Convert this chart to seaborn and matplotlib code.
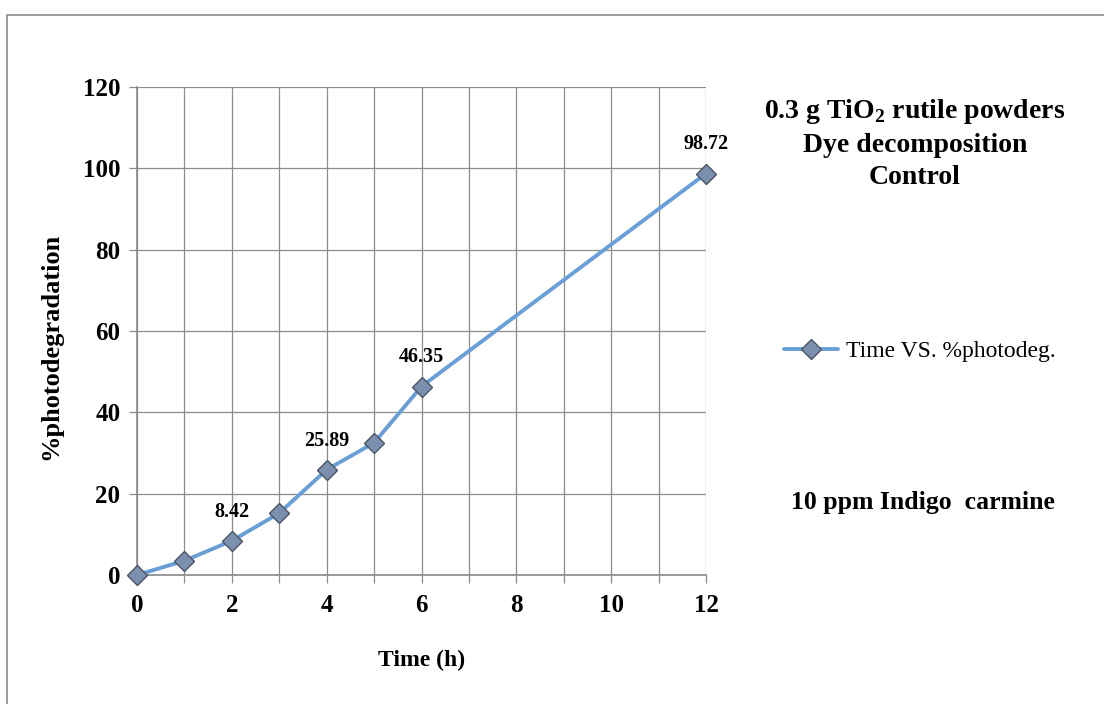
import matplotlib
matplotlib.use("Agg")
import matplotlib.pyplot as plt
from matplotlib.patches import Rectangle
from matplotlib.ticker import MultipleLocator
import seaborn as sns
import pandas as pd

# Photodegradation of indigo carmine over time
time_h = [0, 1, 2, 3, 4, 5, 6, 12]
photodeg = [0, 3.5, 8.42, 15.2, 25.89, 32.5, 46.35, 98.72]
labelled = {2: "8.42", 4: "25.89", 6: "46.35", 12: "98.72"}
series_name = "Time VS. %photodeg."

sns.set_theme(style="white")
plt.rcParams["font.family"] = ["Liberation Serif", "DejaVu Serif"]
plt.rcParams["mathtext.fontset"] = "custom"
plt.rcParams["mathtext.rm"] = "Liberation Serif:bold"
plt.rcParams["mathtext.bf"] = "Liberation Serif:bold"
plt.rcParams["text.color"] = "black"
plt.rcParams["axes.labelcolor"] = "black"
plt.rcParams["xtick.labelcolor"] = "black"
plt.rcParams["ytick.labelcolor"] = "black"

df = pd.DataFrame({"Time (h)": time_h, "%photodegradation": photodeg})

fig = plt.figure(figsize=(11.04, 7.04), dpi=100)
ax = fig.add_axes([137 / 1104, 1 - 575 / 704, (706 - 137) / 1104, (575 - 87) / 704])

line_color = "#6A9FD6"
grid_color = "#8C8C8C"

sns.lineplot(data=df, x="Time (h)", y="%photodegradation", ax=ax,
             color=line_color, linewidth=2.8, marker="D", markersize=10,
             markerfacecolor="#7B8FAE", markeredgecolor="#4A5563",
             markeredgewidth=1.0, label=series_name, clip_on=False, zorder=3)

ax.set_xlim(0, 12)
ax.set_ylim(0, 120)
ax.xaxis.set_major_locator(MultipleLocator(2))
ax.xaxis.set_minor_locator(MultipleLocator(1))
ax.yaxis.set_major_locator(MultipleLocator(20))
ax.grid(True, which="both", axis="x", color=grid_color, linewidth=0.9)
ax.grid(True, which="major", axis="y", color=grid_color, linewidth=0.9)
for s in ax.spines.values():
    s.set_visible(False)
ax.spines["left"].set_visible(True)
ax.spines["bottom"].set_visible(True)
ax.spines["left"].set_color(grid_color)
ax.spines["bottom"].set_color(grid_color)

ax.tick_params(axis="both", which="both", direction="out", color=grid_color,
               length=6, width=0.9, bottom=True, left=True)
ax.tick_params(axis="x", which="major", pad=8)
ax.tick_params(axis="y", which="major", pad=6)
for lab in ax.get_xticklabels() + ax.get_yticklabels():
    lab.set_fontweight("bold")
    lab.set_fontsize(18)

ax.set_xlabel("Time (h)", fontsize=17, fontweight="bold", labelpad=23)
ax.set_ylabel("%photodegradation", fontsize=19, fontweight="bold")
ax.yaxis.set_label_coords(-75 / 569, (575 - 346) / 488)

for x, y in zip(time_h, photodeg):
    if x in labelled:
        ax.annotate(labelled[x], (x, y), xytext=(0, 21), textcoords="offset points",
                    ha="center", va="center", fontsize=14.5, fontweight="bold")

leg = ax.legend(loc="center left", bbox_to_anchor=(1.1, 0.459), frameon=False,
                fontsize=17, handlelength=2.27, handletextpad=0.35)

fig.text(915 / 1104, 1 - 112 / 704, r"0.3 g TiO$_2$ rutile powders", ha="center",
         va="center", fontsize=20, fontweight="bold")
fig.text(915 / 1104, 1 - 145 / 704, "Dye decomposition", ha="center", va="center",
         fontsize=20, fontweight="bold")
fig.text(915 / 1104, 1 - 177 / 704, "Control", ha="center", va="center",
         fontsize=20, fontweight="bold")
fig.text(923 / 1104, 1 - 502 / 704, "10 ppm Indigo  carmine", ha="center", va="center",
         fontsize=18.5, fontweight="bold")

# outer chart frame
fig.patches.append(Rectangle((7 / 1104, -0.05), 1.1, 1 - 15 / 704 + 0.05,
                             transform=fig.transFigure, fill=False,
                             edgecolor="#8C8C8C", linewidth=1.2))

fig.savefig("out.png", dpi=100)
